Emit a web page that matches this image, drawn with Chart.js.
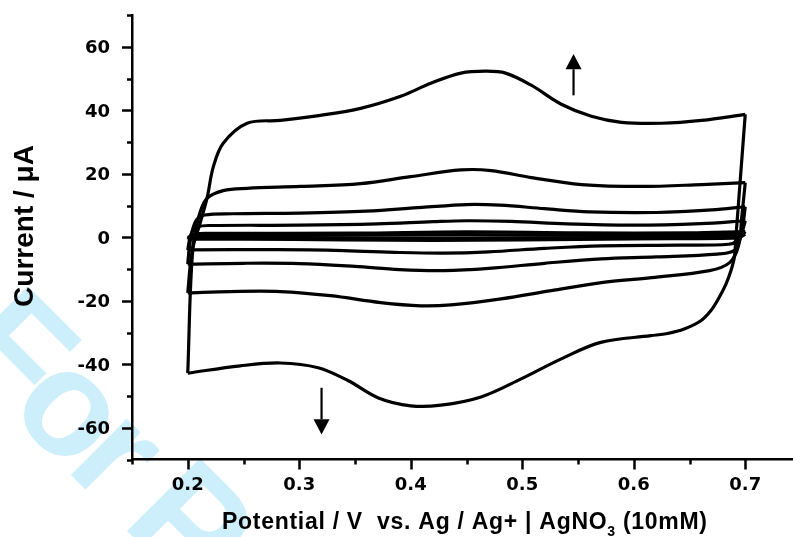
<!DOCTYPE html>
<html>
<head>
<meta charset="utf-8">
<script src="https://cdn.jsdelivr.net/npm/chart.js@4.4.0/dist/chart.umd.min.js"></script>
<style>
  html, body { margin: 0; padding: 0; background: #fff; overflow: hidden; }
  #wrap { width: 810px; height: 537px; }
</style>
</head>
<body>
<div id="wrap"><canvas id="cv" width="810" height="537"></canvas></div>
<script>
// tick labels
const potentialTicks = [0.2, 0.3, 0.4, 0.5, 0.6, 0.7];
const currentTicks = [-60, -40, -20, 0, 20, 40, 60];

// CV loops as [E / V, i / uA]; each loop split at the switching potentials:
// forward sweep 0.2 -> 0.7 V, then reverse sweep 0.7 -> 0.2 V
const loop1Fwd = [[0.200,-42.8],[0.2045,-4],[0.211,4.3],[0.2174,12.5],[0.2228,22],[0.2318,29.6],[0.2533,35.9],[0.283,36.8],[0.319,38.4],[0.355,40.6],[0.391,44.4],[0.418,48.5],[0.445,51.7],[0.467,52.3],[0.485,51.7],[0.508,47.9],[0.535,41.9],[0.562,38.1],[0.589,36.2],[0.625,35.9],[0.661,36.8],[0.700,38.7]];
const loop1Rev = [[0.700,38.7],[0.6916,0],[0.6902,-6.3],[0.6872,-10.5],[0.6828,-14.7],[0.6767,-18.9],[0.6692,-23.1],[0.6602,-26.3],[0.6452,-28.9],[0.6303,-30.3],[0.6153,-31],[0.5704,-33.1],[0.535,-38.3],[0.499,-44.6],[0.463,-50.3],[0.427,-52.9],[0.400,-53.1],[0.371,-50.6],[0.344,-45.2],[0.317,-41.1],[0.283,-39.6],[0.247,-40.5],[0.200,-42.8]];

const loop2Fwd = [[0.200,-17.5],[0.2027,-7.4],[0.2063,0.5],[0.211,7.8],[0.2174,12.3],[0.2318,14.7],[0.2533,15.4],[0.301,16.0],[0.355,16.9],[0.400,19.1],[0.445,21.2],[0.472,21.0],[0.508,18.8],[0.553,16.6],[0.607,16.0],[0.661,16.6],[0.700,17.2]];
const loop2Rev = [[0.700,17.2],[0.697,6.8],[0.694,-2.6],[0.686,-8],[0.668,-10.5],[0.616,-12.7],[0.571,-14.3],[0.526,-16.8],[0.481,-19.4],[0.436,-21.3],[0.409,-21.6],[0.373,-20.6],[0.328,-18.4],[0.283,-17.1],[0.238,-17.1],[0.200,-17.5]];

const loop3Fwd = [[0.200,-8.5],[0.2015,-3],[0.204,2],[0.208,5.5],[0.215,7.0],[0.24,7.4],[0.30,7.6],[0.36,8.2],[0.41,9.4],[0.45,10.3],[0.48,10.1],[0.52,9.0],[0.56,8.0],[0.62,7.8],[0.67,8.6],[0.700,9.6]];
const loop3Rev = [[0.700,9.6],[0.698,4],[0.695,-1],[0.69,-4.2],[0.675,-5.3],[0.62,-6.2],[0.571,-6.8],[0.52,-8.2],[0.47,-9.8],[0.43,-10.5],[0.39,-10.2],[0.35,-9.2],[0.30,-8.3],[0.25,-8.2],[0.200,-8.5]];

const loop4Fwd = [[0.200,-4.0],[0.2015,-1],[0.204,1.8],[0.209,3.3],[0.22,3.7],[0.30,3.8],[0.37,4.2],[0.42,4.9],[0.45,5.2],[0.49,5.0],[0.54,4.2],[0.60,3.8],[0.66,4.3],[0.700,5.2]];
const loop4Rev = [[0.700,5.2],[0.697,1.5],[0.693,-1],[0.685,-2.2],[0.64,-2.5],[0.571,-2.7],[0.52,-3.5],[0.47,-4.6],[0.43,-5.0],[0.39,-4.8],[0.34,-4.2],[0.28,-3.9],[0.200,-4.0]];

const loop5Fwd = [[0.200,-0.6],[0.202,0.2],[0.206,1.0],[0.22,1.2],[0.35,1.3],[0.45,1.7],[0.55,1.4],[0.65,1.4],[0.700,1.8]];
const loop5Rev = [[0.700,1.8],[0.696,0.2],[0.69,-0.3],[0.60,-0.5],[0.50,-0.8],[0.42,-1.0],[0.34,-0.8],[0.25,-0.6],[0.200,-0.6]];

const loop6Fwd = [[0.200,-0.1],[0.204,0.4],[0.25,0.5],[0.45,0.8],[0.60,0.6],[0.700,0.9]];
const loop6Rev = [[0.700,0.9],[0.695,0.1],[0.60,-0.1],[0.42,-0.3],[0.30,-0.2],[0.200,-0.1]];

const sweeps = [loop1Fwd, loop1Rev, loop2Fwd, loop2Rev, loop3Fwd, loop3Rev,
                loop4Fwd, loop4Rev, loop5Fwd, loop5Rev, loop6Fwd, loop6Rev];

const tickFont = 'bold 18px "DejaVu Sans", sans-serif';
const titleFamily = '"Liberation Sans", Arial, sans-serif';

// watermark, tick marks + labels, axis titles and the sweep-direction arrows
const decor = {
  id: 'decor',
  beforeDraw(chart) {
    const ctx = chart.ctx;
    ctx.save();
    ctx.fillStyle = '#cdeefb';
    ctx.font = 'bold 150px ' + titleFamily;
    ctx.translate(-52, 352);
    ctx.rotate(Math.PI / 4);
    ctx.textBaseline = 'alphabetic';
    let x = 0;
    for (const ch of 'For Peer Review') {
      ctx.fillText(ch, x, 0);
      x += ctx.measureText(ch).width - 10;
    }
    ctx.restore();
  },
  afterDatasetsDraw(chart) {
    const ctx = chart.ctx, xs = chart.scales.x, ys = chart.scales.y;
    const arrows = [
      { v: 0.546, from: 44.7, base: 52.9, tip: 57.7 },
      { v: 0.320, from: -47.4, base: -57.3, tip: -62.1 }
    ];
    ctx.save();
    ctx.strokeStyle = '#000';
    ctx.fillStyle = '#000';
    ctx.lineWidth = 2.2;
    for (const a of arrows) {
      const px = xs.getPixelForValue(a.v);
      const y0 = ys.getPixelForValue(a.from);
      const yb = ys.getPixelForValue(a.base);
      const yt = ys.getPixelForValue(a.tip);
      ctx.beginPath();
      ctx.moveTo(px, y0);
      ctx.lineTo(px, yb);
      ctx.stroke();
      ctx.beginPath();
      ctx.moveTo(px - 8, yb);
      ctx.lineTo(px + 8, yb);
      ctx.lineTo(px, yt);
      ctx.closePath();
      ctx.fill();
    }
    ctx.restore();
  },
  afterDraw(chart) {
    const ctx = chart.ctx, xs = chart.scales.x, ys = chart.scales.y;
    ctx.save();
    ctx.strokeStyle = '#000';
    ctx.lineWidth = 2.5;
    ctx.beginPath();
    // x ticks every 0.05 V, long ones under the labels
    for (let i = 3; i <= 15; i++) {
      const v = i * 0.05;
      const major = potentialTicks.some(t => Math.abs(t - v) < 1e-6);
      const px = Math.round(xs.getPixelForValue(v)) + 0.5;
      ctx.moveTo(px, xs.top);
      ctx.lineTo(px, xs.top + (major ? 10 : 5));
    }
    // y ticks every 10 uA
    for (let i = -7; i <= 7; i++) {
      const v = i * 10;
      const major = currentTicks.includes(v);
      const py = Math.round(ys.getPixelForValue(v)) + 0.5;
      ctx.moveTo(ys.right, py);
      ctx.lineTo(ys.right - (major ? 10 : 5), py);
    }
    ctx.stroke();

    ctx.fillStyle = '#000';
    ctx.font = tickFont;
    ctx.textBaseline = 'alphabetic';
    ctx.textAlign = 'center';
    for (const v of potentialTicks) {
      ctx.fillText(v.toFixed(1), xs.getPixelForValue(v), 490);
    }
    ctx.textAlign = 'right';
    for (const v of currentTicks) {
      ctx.fillText(String(v), 110, ys.getPixelForValue(v) + 6.6);
    }

    // y title
    ctx.save();
    ctx.font = 'bold 28px ' + titleFamily;
    ctx.translate(33, 226);
    ctx.rotate(-Math.PI / 2);
    ctx.textAlign = 'center';
    ctx.fillText('Current / \u03bcA', 0, 0);
    ctx.restore();

    // x title with subscript, letter-spaced
    const parts = [
      { t: 'Potential / V  vs. Ag / Ag+ | AgNO', size: 23, dy: 0 },
      { t: '3', size: 14, dy: 7 },
      { t: ' (10mM)', size: 23, dy: 0 }
    ];
    ctx.textAlign = 'left';
    let natural = 0, count = 0;
    for (const p of parts) {
      ctx.font = 'bold ' + p.size + 'px ' + titleFamily;
      for (const ch of p.t) { natural += ctx.measureText(ch).width; count++; }
    }
    const span = 485;
    const gap = (span - natural) / (count - 1);
    let x = 222;
    for (const p of parts) {
      ctx.font = 'bold ' + p.size + 'px ' + titleFamily;
      for (const ch of p.t) {
        ctx.fillText(ch, x, 528.5 + p.dy);
        x += ctx.measureText(ch).width + gap;
      }
    }
    ctx.restore();
  }
};

new Chart(document.getElementById('cv'), {
  type: 'scatter',
  data: {
    datasets: sweeps.map(pts => ({
      data: pts.map(([x, y]) => ({ x, y })),
      showLine: true,
      borderColor: '#000',
      borderWidth: 3.2,
      borderJoinStyle: 'round',
      pointRadius: 0,
      tension: 0.35,
      fill: false
    }))
  },
  options: {
    responsive: false,
    animation: false,
    layout: { padding: { top: 15, right: 9, left: 0, bottom: 0 } },
    plugins: { legend: { display: false }, tooltip: { enabled: false } },
    scales: {
      x: {
        type: 'linear',
        min: 0.15,
        max: 0.75,
        afterFit: s => { s.height = 77.5; },
        grid: { display: false, drawTicks: false },
        border: { display: true, color: '#000', width: 2.5 },
        ticks: { display: false }
      },
      y: {
        min: -70,
        max: 70,
        afterFit: s => { s.width = 132; },
        grid: { display: false, drawTicks: false },
        border: { display: true, color: '#000', width: 2.5 },
        ticks: { display: false }
      }
    }
  },
  plugins: [decor]
});
</script>
</body>
</html>
